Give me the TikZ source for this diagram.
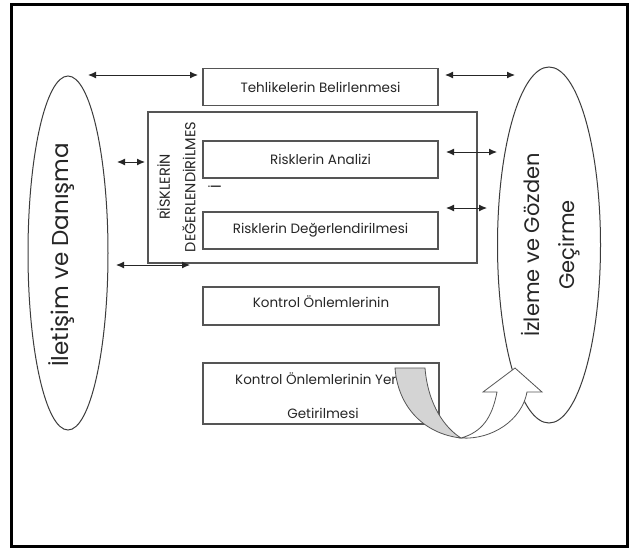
\documentclass[tikz,border=0pt]{standalone}
\usepackage{fontspec}
\setmainfont{Poppins}
\usetikzlibrary{arrows.meta,shapes.geometric}
\definecolor{boxgray}{RGB}{85,85,85}
\definecolor{linegray}{RGB}{60,60,60}
\definecolor{bandgray}{RGB}{212,212,212}
\begin{document}
\begin{tikzpicture}[x=1pt,y=-1pt,
  box/.style={draw=boxgray, line width=1.3pt, minimum width=235pt, minimum height=37pt, inner sep=0pt},
  lbl/.style={inner sep=0pt, text=black!85, font=\fontsize{13.5}{16}\selectfont},
  link/.style={draw=black!85, line width=1pt, {Latex[length=8pt,width=7pt]}-{Latex[length=8pt,width=7pt]}},
  oval/.style={draw=linegray, line width=1pt, ellipse, inner sep=0pt},
  band/.style={draw=boxgray, line width=0.8pt}]
\fill[white] (0,0) rectangle (629,550);
\useasboundingbox (0,0) rectangle (629,550);
\draw[line width=3pt, black] (11,4) rectangle (627,546);
% ellipses
\node[oval, minimum width=80pt, minimum height=354pt] (comm) at (68,253) {};
\node[oval, minimum width=103pt, minimum height=356pt] (mon) at (549,245) {};
\node[rotate=90, inner sep=0pt, text=black!85, font=\fontsize{23}{26}\selectfont] (commtxt) at (62,255) {İletişim ve Danışma};
\node[rotate=90, inner sep=0pt, align=center, text=black!85, font=\fontsize{21}{35}\selectfont] (montxt) at (551,245) {İzleme ve Gözden\\Geçirme};
% boxes
\node[box] (haz) at (320.5,87) {};
\node[lbl] (hazt) at (320.5,87) {Tehlikelerin Belirlenmesi};
\node[draw=boxgray, line width=1.3pt, minimum width=329pt, minimum height=151pt, inner sep=0pt] (ra) at (312.5,187.5) {};
\node[rotate=90, inner sep=0pt, align=center, text=black!85, font=\fontsize{14.5}{25.5}\selectfont] (ratxt) at (189,187) {RİSKLERİN\\DEĞERLENDİRİLMES\\İ};
\node[box] (an) at (320.5,159.5) {};
\node[lbl] (ant) at (320.5,159.5) {Risklerin Analizi};
\node[box] (ev) at (320.5,230.5) {};
\node[lbl] (evt) at (320.5,230.5) {Risklerin Değerlendirilmesi};
\node[box, minimum width=236pt, minimum height=38pt] (k1) at (321,306) {};
\node[lbl] (k1t) at (321,302) {Kontrol Önlemlerinin};
\node[box, minimum width=236pt, minimum height=61pt] (k2) at (321,393.5) {};
\node[lbl, anchor=west] (k2a) at (235,379) {Kontrol Önlemlerinin Yerine};
\node[lbl] (k2b) at (323,413) {Getirilmesi};
% connectors
\coordinate (l1a) at (88,75);  \coordinate (l1b) at (198,75);
\coordinate (r1a) at (445,75); \coordinate (r1b) at (515,75);
\coordinate (l2a) at (117,162); \coordinate (l2b) at (145,162);
\coordinate (l3a) at (116,265); \coordinate (l3b) at (190,265);
\coordinate (r2a) at (446,152); \coordinate (r2b) at (497,152);
\coordinate (r3a) at (446,208); \coordinate (r3b) at (487,208);
\draw[link] (l1a) -- (l1b);
\draw[link] (r1a) -- (r1b);
\draw[link] (l2a) -- (l2b);
\draw[link] (l3a) -- (l3b);
\draw[link] (r2a) -- (r2b);
\draw[link] (r3a) -- (r3b);
% curved arrow
\coordinate (cgl) at (395,368);
\coordinate (cgr) at (425,368);
\coordinate (cbot) at (461,438);
\coordinate (cls) at (497,392);
\coordinate (clw) at (483,392);
\coordinate (ctip) at (515,368);
\coordinate (crw) at (542,392);
\coordinate (crs) at (527,392);
\filldraw[band, fill=bandgray] (cgl) .. controls (398,408) and (425,434) .. (cbot)
   .. controls (445,428) and (428,405) .. (cgr) -- cycle;
\filldraw[band, fill=white] (cbot) .. controls (492,440) and (522,420) .. (crs)
   -- (crw) -- (ctip) -- (clw) -- (cls) .. controls (492,418) and (482,432) .. (cbot) -- cycle;
\end{tikzpicture}
\end{document}
